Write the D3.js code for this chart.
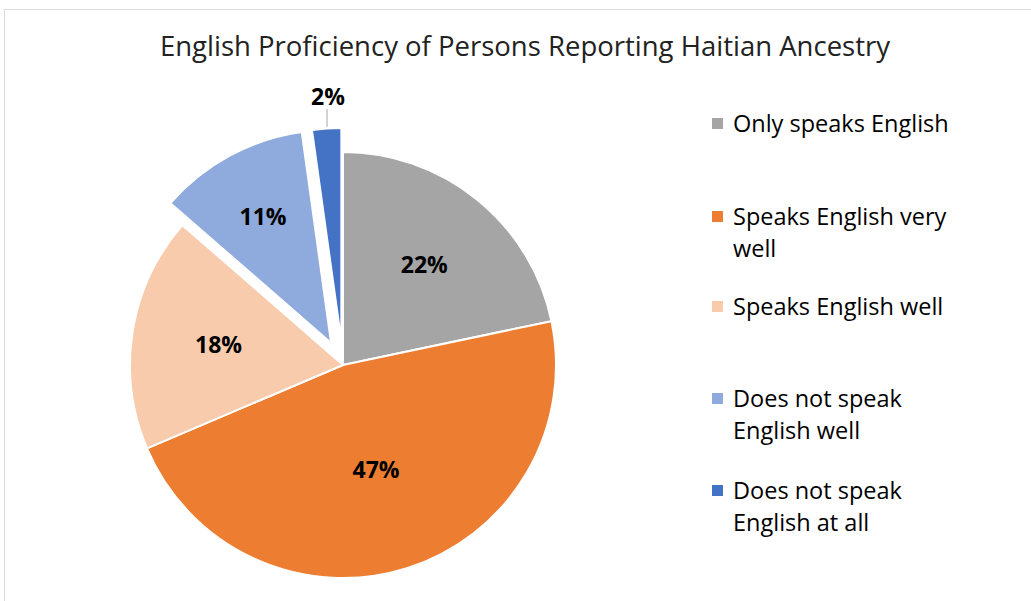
<!DOCTYPE html>
<html>
<head>
<meta charset="utf-8">
<script src="https://cdn.jsdelivr.net/npm/d3@7"></script>
<style>
  body { margin: 0; background: #fff; }
  svg { display: block; }
</style>
</head>
<body>
<div id="chart-area"></div>
<script>
var svgWidth = 1031
var svgHeight = 601

// data (share of persons, %)
var categories = ["Only speaks English", "Speaks English very well", "Speaks English well",
                  "Does not speak English well", "Does not speak English at all"]
var values = [21.7, 46.9, 17.8, 11.4, 2.2]
var legendLines = [["Only speaks English"], ["Speaks English very", "well"], ["Speaks English well"],
                   ["Does not speak", "English well"], ["Does not speak", "English at all"]]
var colors = ["#A5A5A5", "#ED7D31", "#F8CBAD", "#8FAADC", "#4472C4"]

var cx = 343, cy = 365, radius = 213
var explode = [0, 0, 0, 25, 24]
var labelR = [129, 110, 126, 143, 0]
var legendY = [124, 217, 307, 399, 491]
var font = "'Open Sans', Lato, sans-serif"

var svg = d3.select("#chart-area")
			.append("svg")
			.attr("width", svgWidth)
			.attr("height", svgHeight)

// chart border
svg.append("rect")
	.attr("x", 4.5)
	.attr("y", 9.5)
	.attr("width", svgWidth + 20)
	.attr("height", svgHeight + 20)
	.attr("fill", "none")
	.attr("stroke", "#D9D9D9")

svg.append("text")
	.attr("x", 525)
	.attr("y", 56)
	.attr("text-anchor", "middle")
	.style("font-family", font)
	.style("font-size", "27.5px")
	.attr("fill", "#222")
	.text("English Proficiency of Persons Reporting Haitian Ancestry")

var pie = d3.pie().sort(null).value(function(d){ return d })
var arcs = pie(values)

var arc = d3.arc().innerRadius(0).outerRadius(radius)

var g = svg.append("g").attr("transform", "translate(" + cx + "," + cy + ")")

function offset(d, i, r){
	var a = (d.startAngle + d.endAngle) / 2
	return [Math.sin(a) * r, -Math.cos(a) * r]
}

g.selectAll("path").data(arcs)
	.enter()
	.append("path")
	.attr("d", arc)
	.attr("transform", function(d, i){
		var o = offset(d, i, explode[i])
		return "translate(" + o[0] + "," + o[1] + ")"
	})
	.attr("fill", function(d, i){ return colors[i] })
	.attr("stroke", "#fff")
	.attr("stroke-width", 2)
	.attr("stroke-linejoin", "round")

var total = d3.sum(values)

g.selectAll("text.lbl").data(arcs)
	.enter()
	.append("text")
	.attr("class", "lbl")
	.attr("x", function(d, i){
		if (i == 4) return -15
		return offset(d, i, explode[i] + labelR[i])[0]
	})
	.attr("y", function(d, i){
		if (i == 4) return -268
		return offset(d, i, explode[i] + labelR[i])[1]
	})
	.attr("dy", "0.35em")
	.attr("text-anchor", "middle")
	.style("font-family", font)
	.style("font-weight", "bold")
	.style("font-size", "23px")
	.attr("fill", "#000")
	.text(function(d){ return Math.round(d.data / total * 100) + "%" })

// leader line for the small slice
g.append("line")
	.attr("x1", -16).attr("x2", -16)
	.attr("y1", -256).attr("y2", -238)
	.attr("stroke", "#A6A6A6")
	.attr("stroke-width", 1)

var legend = svg.selectAll("g.leg").data(categories)
	.enter()
	.append("g")
	.attr("class", "leg")
	.attr("transform", function(d, i){ return "translate(712," + legendY[i] + ")" })

legend.append("rect")
	.attr("x", 0)
	.attr("y", -6)
	.attr("width", 11)
	.attr("height", 11)
	.attr("fill", function(d, i){ return colors[i] })

legend.append("text")
	.style("font-family", font)
	.style("font-size", "23.5px")
	.attr("fill", "#000")
	.selectAll("tspan")
	.data(function(d, i){ return legendLines[i] })
	.enter()
	.append("tspan")
	.attr("x", 21)
	.attr("y", function(d, j){ return j * 32 })
	.attr("dy", "0.36em")
	.text(function(d){ return d })
</script>
</body>
</html>
